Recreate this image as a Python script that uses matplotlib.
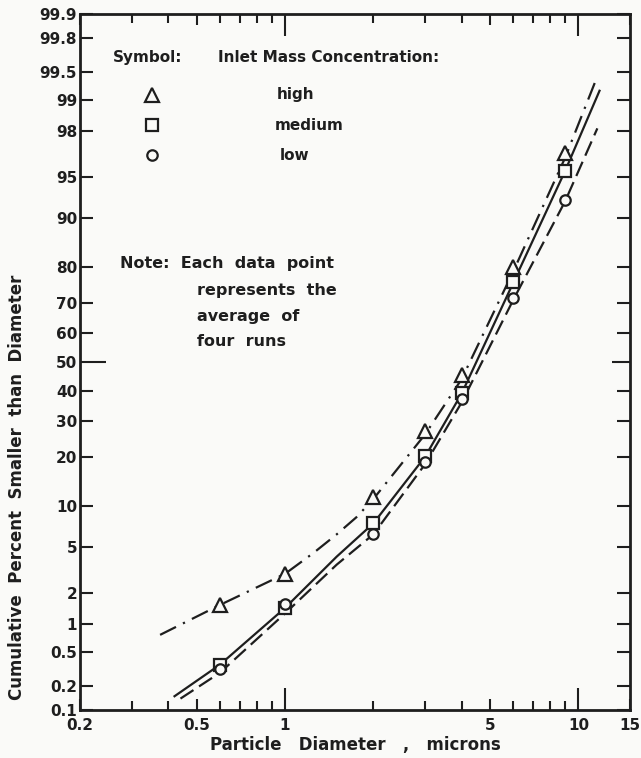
import numpy as np
import matplotlib
matplotlib.use('Agg')
import matplotlib.pyplot as plt
from statistics import NormalDist
import math

# data (particle diameter in microns, cumulative %)
diam = [0.6, 1, 2, 3, 4, 6, 9]
high_pts = [1.55, 3.0, 11.5, 27.0, 45.5, 80.0, 96.8]
medium_pts = [0.36, 1.45, 7.6, 20.3, 39.0, 76.0, 95.5]
low_pts = [0.32, 1.6, 6.3, 18.8, 37.2, 71.4, 92.5]

# fitted curves
high_curve_x = [0.375, 0.6, 1.0, 1.25, 1.5, 1.75, 2.0, 3.0, 4.0, 6.0, 9.0, 11.5]
high_curve_y = [0.77, 1.55, 3.0, 4.5, 6.3, 8.4, 11.2, 26.0, 44.0, 79.0, 96.5, 99.4]
med_curve_x = [0.42, 0.6, 1.0, 1.5, 2.0, 3.0, 4.0, 6.0, 9.0, 11.8]
med_curve_y = [0.15, 0.36, 1.45, 4.2, 7.6, 20.0, 39.0, 76.0, 95.5, 99.2]
low_curve_x = [0.44, 0.6, 1.0, 1.5, 2.0, 3.0, 4.0, 6.0, 9.0, 11.6]
low_curve_y = [0.14, 0.29, 1.28, 3.6, 6.3, 18.2, 36.0, 71.0, 92.3, 98.1]

y_ticks = [0.1, 0.2, 0.5, 1, 2, 5, 10, 20, 30, 40, 50, 60, 70, 80, 90, 95, 98, 99, 99.5, 99.8, 99.9]
y_labels = ['0.1', '0.2', '0.5', '1', '2', '5', '10', '20', '30', '40', '50', '60', '70', '80',
            '90', '95', '98', '99', '99.5', '99.8', '99.9']
x_ticks = [0.2, 0.5, 1, 5, 10, 15]
x_labels = ['0.2', '0.5', '1', '5', '10', '15']
x_minor = [0.3, 0.4, 0.6, 0.7, 0.8, 0.9, 2, 3, 4, 6, 7, 8, 9]

ND = NormalDist()


def prob_fwd(p):
    p = np.clip(np.asarray(p, dtype=float) / 100.0, 1e-10, 1 - 1e-10)
    out = np.array([ND.inv_cdf(v) if np.isfinite(v) else np.nan for v in p.ravel()])
    return out.reshape(p.shape)


def prob_inv(z):
    z = np.asarray(z, dtype=float)
    out = np.array([50.0 * (1 + math.erf(v / math.sqrt(2))) if np.isfinite(v) else np.nan
                    for v in z.ravel()])
    return out.reshape(z.shape)


plt.rcParams['font.family'] = 'DejaVu Sans'
plt.rcParams['font.weight'] = 'bold'
plt.rcParams['axes.labelweight'] = 'bold'
ink = '#1e1e1e'
bg = '#fafaf8'

fig = plt.figure(figsize=(6.41, 7.58), dpi=100, facecolor=bg)
ax = fig.add_axes([0.1248, 0.0633, 0.8582, 0.9182])
ax.set_facecolor(bg)

ax.set_xscale('log')
ax.set_yscale('function', functions=(prob_fwd, prob_inv))

lw = 1.6
ax.plot(high_curve_x, high_curve_y, color=ink, lw=lw, ls=(0, (8, 3.5, 1, 3.5)))
ax.plot(med_curve_x, med_curve_y, color=ink, lw=lw, ls='-')
ax.plot(low_curve_x, low_curve_y, color=ink, lw=lw, ls=(0, (7, 3)))

ax.plot(diam, high_pts, ls='none', marker='^', ms=10, mfc=bg, mec=ink, mew=1.6)
ax.plot(diam, medium_pts, ls='none', marker='s', ms=8, mfc=bg, mec=ink, mew=1.6)
ax.plot(diam, low_pts, ls='none', marker='o', ms=7.5, mfc=bg, mec=ink, mew=1.6)

ax.set_xlim(0.2, 15)
ax.set_ylim(0.1, 99.9)

ax.set_xticks(x_ticks)
ax.set_xticklabels(x_labels)
ax.set_xticks(x_minor, minor=True)
ax.xaxis.set_minor_formatter(matplotlib.ticker.NullFormatter())
ax.set_yticks(y_ticks)
ax.set_yticklabels(y_labels)
ax.yaxis.set_minor_locator(matplotlib.ticker.NullLocator())

ax.tick_params(axis='both', which='both', direction='in', colors=ink, width=1.5,
               labelsize=11, top=True, right=True)
ax.tick_params(axis='y', which='major', length=9.5, pad=2)
ax.tick_params(axis='x', which='major', length=8, pad=6)
ax.tick_params(axis='x', which='minor', length=6.5)

# longer ticks at 1 and 10 on x, and at 50 on y
for t in ax.xaxis.get_major_ticks():
    if t.get_loc() in (1, 10):
        t.tick1line.set_markersize(16)
        t.tick2line.set_markersize(16)
for t in ax.yaxis.get_major_ticks():
    if t.get_loc() == 50:
        t.tick1line.set_markersize(19)
        t.tick2line.set_markersize(13)

for s in ax.spines.values():
    s.set_linewidth(2)
    s.set_color(ink)

ax.set_xlabel('Particle   Diameter   ,   microns', fontsize=12, color=ink, labelpad=2)
ax.set_ylabel('Cumulative  Percent  Smaller  than  Diameter', fontsize=12, color=ink)
ax.yaxis.set_label_coords(-0.098, 0.32)

# key
ax.text(0.06, 0.938, 'Symbol:', transform=ax.transAxes, fontsize=11, color=ink,
        va='center')
ax.text(0.251, 0.938, 'Inlet Mass Concentration:', transform=ax.transAxes, fontsize=11,
        color=ink, va='center')
key_y = [0.884, 0.840, 0.797]
key_marks = [('^', 10, 'high', 0.357), ('s', 8, 'medium', 0.354), ('o', 7.5, 'low', 0.364)]
for (m, ms, lab, lx), yy in zip(key_marks, key_y):
    ax.plot([0.131], [yy], transform=ax.transAxes, ls='none', marker=m, ms=ms,
            mfc=bg, mec=ink, mew=1.6)
    ax.text(lx, yy, lab, transform=ax.transAxes, fontsize=11, color=ink, va='center')

note_lines = [('Note:  Each  data  point', 0.0727, 0.642),
              ('represents  the', 0.2127, 0.603),
              ('average  of', 0.2127, 0.566),
              ('four  runs', 0.2127, 0.530)]
for txt, nx, ny in note_lines:
    ax.text(nx, ny, txt, transform=ax.transAxes, fontsize=11.5, color=ink, va='center')

fig.savefig('out.png', dpi=100, facecolor=fig.get_facecolor())
